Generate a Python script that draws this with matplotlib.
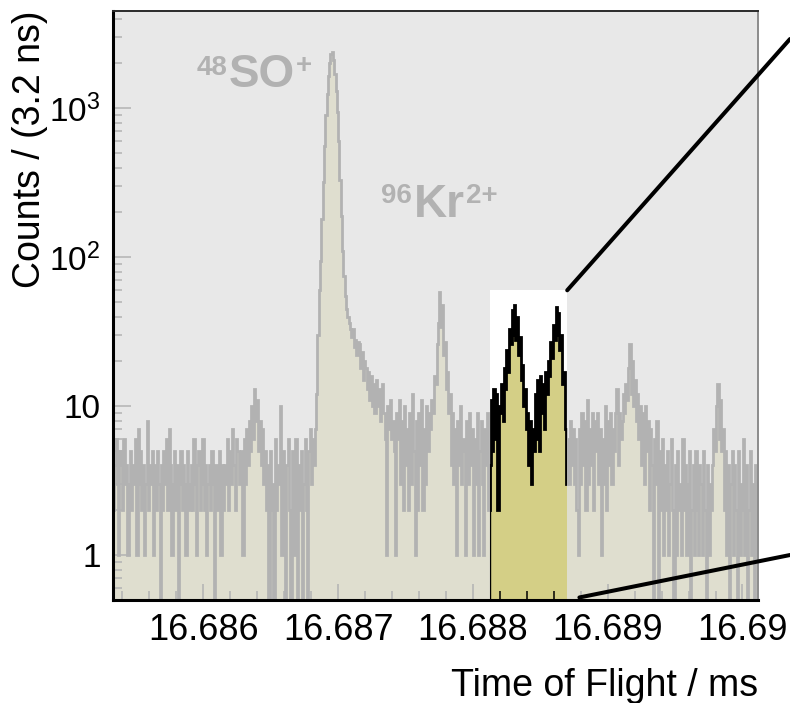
import numpy as np
import matplotlib
matplotlib.use('Agg')
import matplotlib.pyplot as plt
from matplotlib.patches import Polygon, ConnectionPatch

# time-of-flight spectrum, fixed-width bins starting at t0 (ms)
t0 = 16.68533
bin_w = 9.6e-6

# background + small peak in front of the SO line
counts_left = [
    2, 4, 6, 3, 1, 5, 4, 2, 6, 3, 4, 1, 3, 5, 2, 4, 3, 6, 1, 7,
    3, 5, 2, 4, 1, 3, 8, 2, 4, 3, 5, 1, 4, 2, 5, 3, 0, 4, 2, 5,
    3, 6, 2, 7, 4, 1, 3, 5, 2, 4, 0, 3, 5, 2, 4, 3, 1, 5, 3, 2,
    4, 2, 6, 3, 1, 4, 5, 2, 3, 6, 2, 4, 1, 3, 4, 2, 5, 3, 0, 4,
    2, 3, 5, 1, 4, 2, 4, 3, 6, 2, 5, 3, 7, 4, 2, 6, 5, 3,
    3, 5, 1, 6, 3, 7, 4, 8, 5, 10, 6, 13, 8, 11, 5, 8, 4, 7, 3, 5, 2,
    4, 0, 5, 2, 3, 0, 6, 2, 4, 3, 10, 1, 5, 2, 0, 4, 6, 2, 0, 5,
    3, 1, 6, 0, 4, 2, 5, 0, 3, 6, 2, 0, 5, 7, 3, 6, 4, 7,
]
# 48SO+ line and its tail
counts_so = [
    12, 30, 60, 95, 180, 320, 560, 900, 1250, 1650,
    2000, 2300, 2380, 2100, 1700, 1300, 950, 600, 330, 190,
    110, 75, 55, 45, 40, 36, 33, 29, 33, 25,
    28, 22, 27, 26, 18, 23, 15, 20, 18, 13,
    17, 11, 16, 10, 14, 9, 15, 10, 13, 8, 12,
]
counts_mid = [
    14, 9, 6, 1, 10, 7, 11, 6, 8, 5, 1, 9, 6, 11, 3, 8, 2, 10, 4, 7,
    2, 9, 3, 12, 5, 1, 8, 2, 9, 4, 11, 2, 7, 3, 10, 5, 9,
    7, 11, 9, 16, 14, 26, 36, 58, 34, 48, 22, 27, 13, 17, 9, 12,
    4, 9, 3, 7, 1, 8, 4, 10, 3, 6, 5, 1, 8, 3, 9, 4, 7, 1, 6, 3,
    9, 1, 5, 8, 3, 1, 7, 4, 9, 2,
]
# 96Kr2+ doublet (highlighted section)
counts_kr = [
    4, 11, 5, 13, 6, 12, 2, 10, 9, 14, 8, 18, 13, 24, 17, 33, 26, 44, 30, 48,
    28, 40, 22, 29, 15, 19, 10, 13, 7, 9, 4, 8, 3, 7, 5, 12, 6, 15, 5, 16,
    9, 14, 7, 17, 12, 20, 16, 27, 21, 35, 28, 46, 30, 42, 24, 30, 14, 17, 7, 3,
]
counts_right = [
    6, 3, 8, 4, 7, 3, 6, 2, 1, 7, 3, 9, 4, 8, 2, 11, 3, 7, 4, 9,
    2, 8, 5, 9, 3, 7, 1, 6, 3, 10, 2, 8, 4, 9, 3, 7, 5, 9, 13, 4,
    9, 6,
    8, 12, 9, 14, 11, 18, 26, 12, 20, 10, 15, 8, 12, 6, 10,
    4, 9, 3, 10, 5, 8, 2, 7, 4, 0, 6, 3, 8, 0, 5,
    2, 6, 1, 4, 2, 5, 1, 3, 6, 2, 0, 4, 1, 5, 2, 3, 1, 6, 2, 4,
    1, 3, 5, 0, 2, 4, 1, 5, 2, 1, 4, 3, 1, 5, 2, 0, 4, 1, 3, 2,
    4, 7, 5, 10, 14, 6, 11, 5, 7,
    2, 5, 1, 4, 0, 3, 5, 1, 4, 2, 0, 5, 1, 3, 2, 6, 1, 4, 0, 2,
    5, 1, 3, 0, 4, 1, 2,
]

x_range = (16.68533, 16.690115)
y_range = (0.5, 4500)
x_ticks = [16.686, 16.687, 16.688, 16.689, 16.690]
x_ticklabels = ['16.686', '16.687', '16.688', '16.689', '16.69']
y_ticks = [1, 10, 100, 1000]
y_ticklabels = ['1', '10', r'$\mathregular{10^{2}}$', r'$\mathregular{10^{3}}$']
zoom_top = 60

counts = np.array(counts_left + counts_so + counts_mid + counts_kr + counts_right, dtype=float)
edges = t0 + bin_w * np.arange(len(counts) + 1)
i0 = len(counts_left) + len(counts_so) + len(counts_mid)
i1 = i0 + len(counts_kr)
zoom_lo, zoom_hi = edges[i0], edges[i1]

plt.rcParams['font.family'] = 'Liberation Sans'
plt.rcParams['mathtext.fontset'] = 'custom'
plt.rcParams['mathtext.rm'] = 'Liberation Sans'
plt.rcParams['mathtext.bf'] = 'Liberation Sans:bold'

fig = plt.figure(figsize=(7.9, 7.03), dpi=100)
ax = fig.add_axes([113 / 790, 1 - 600 / 703, 645 / 790, 589 / 703])
ax.set_yscale('log')

ax.stairs(counts, edges, baseline=0, fill=True, color='#d4cf86', lw=0, zorder=1)
ax.stairs(counts, edges, baseline=None, color='black', lw=2.0, zorder=2)
ax.vlines(zoom_lo, y_range[0], counts[i0], color='black', lw=1.0, zorder=2)

# peak labels
so = ax.text(16.686189, 1384, 'SO', fontsize=33, fontweight='bold',
             ha='left', va='baseline', zorder=2.1)
ax.annotate('48', xy=(0, 1), xycoords=so, xytext=(-1, -1), textcoords='offset points',
            ha='right', va='top', fontsize=20, fontweight='bold', zorder=2.1)
ax.annotate('+', xy=(1, 1), xycoords=so, xytext=(1, 0), textcoords='offset points',
            ha='left', va='top', fontsize=20, fontweight='bold', zorder=2.1)
kr = ax.text(16.687559, 185, 'Kr', fontsize=33, fontweight='bold',
             ha='left', va='baseline', zorder=2.1)
ax.annotate('96', xy=(0, 1), xycoords=kr, xytext=(-1, 0), textcoords='offset points',
            ha='right', va='top', fontsize=20, fontweight='bold', zorder=2.1)
ax.annotate('2+', xy=(1, 1), xycoords=kr, xytext=(1, 0), textcoords='offset points',
            ha='left', va='top', fontsize=20, fontweight='bold', zorder=2.1)

# grey veil over everything except the zoomed window
xmin, xmax = x_range
ymin, ymax = y_range
veil = Polygon([(xmin, ymin), (zoom_lo, ymin), (zoom_lo, zoom_top), (zoom_hi, zoom_top),
                (zoom_hi, ymin), (xmax, ymin), (xmax, ymax), (xmin, ymax)],
               closed=True, facecolor='#e3e3e3', edgecolor='none', alpha=0.79, zorder=2.2)
ax.add_patch(veil)

ax.set_xlim(x_range)
ax.set_ylim(y_range)

ax.set_xticks(x_ticks, x_ticklabels)
ax.xaxis.set_minor_locator(matplotlib.ticker.MultipleLocator(0.0002))
ax.set_yticks(y_ticks, y_ticklabels)
ax.tick_params(axis='x', which='major', direction='in', length=11.5, width=1.1,
               labelsize=26, pad=9.5, top=False)
ax.tick_params(axis='x', which='minor', direction='in', length=6.5, width=1.1, top=False)
ax.tick_params(axis='y', which='major', direction='in', length=13, width=1.1,
               labelsize=24, pad=9, right=False)
ax.tick_params(axis='y', which='minor', direction='in', length=6.5, width=1.1, right=False)

for side in ('left', 'bottom'):
    ax.spines[side].set_linewidth(2.2)
ax.spines['top'].set_linewidth(1.4)
ax.spines['top'].set_color('#2a2a2a')
ax.spines['right'].set_linewidth(1.4)
ax.spines['right'].set_color('#8c8c8c')

ax.set_xlabel('Time of Flight / ms', fontsize=27, loc='right', labelpad=14)
ax.set_ylabel('Counts / (3.2 ns)', fontsize=27, loc='top', labelpad=1)

# lines out to the zoomed panel
for start, end in [((zoom_hi, zoom_top), (1.0, 0.9445)),
                   ((16.68879, 0.52), (1.0, 0.2105))]:
    link = ConnectionPatch(xyA=start, coordsA=ax.transData, xyB=end,
                           coordsB=fig.transFigure, color='black', lw=2.9)
    fig.add_artist(link)

fig.savefig('out.png', dpi=100)
